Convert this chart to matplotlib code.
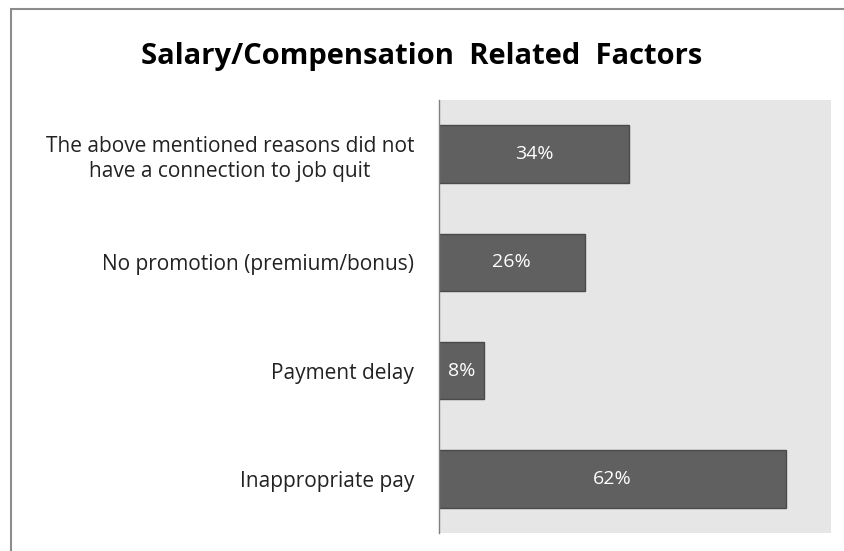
import matplotlib.pyplot as plt
import numpy as np
from matplotlib.patches import Rectangle

plt.rcParams['font.family'] = ['Open Sans', 'DejaVu Sans']

categories = ['The above mentioned reasons did not\nhave a connection to job quit',
              'No promotion (premium/bonus)',
              'Payment delay',
              'Inappropriate pay']
values = [34, 26, 8, 62]
value_labels = ['34%', '26%', '8%', '62%']

fig = plt.figure(figsize=(8.44, 5.51), dpi=100)
# light gray frame around the chart area
fig.patches.append(Rectangle((11 / 844, -0.1), 1.2, 1 - 9 / 551 + 0.1, transform=fig.transFigure,
                             fill=False, edgecolor='#8c8c8c', linewidth=1.5))

ax = fig.add_axes([439 / 844, 1 - 533 / 551, (831 - 439) / 844, (533 - 100) / 551])
ax.set_facecolor('#e6e6e6')

y = np.arange(len(categories))
bars = ax.barh(y, values, height=0.53, color='#606060', edgecolor='#4a4a4a', linewidth=1)
for b, lab in zip(bars, value_labels):
    ax.text(b.get_width() / 2, b.get_y() + b.get_height() / 2, lab,
            ha='center', va='center', color='white', fontsize=14)

ax.set_xlim(0, 70)
ax.set_ylim(len(categories) - 0.5, -0.5)
ax.set_yticks(y)
ax.set_yticklabels(categories, fontsize=15, color='#222222', linespacing=1.3)
ax.tick_params(axis='y', length=0, pad=18)
ax.set_xticks([])
for s in ['top', 'right', 'bottom']:
    ax.spines[s].set_visible(False)
ax.spines['left'].set_color('#808080')
ax.spines['left'].set_linewidth(1)

for t in ax.get_yticklabels():
    t.set_multialignment('center')

fig.text(422 / 844, 1 - 64 / 551, 'Salary/Compensation  Related  Factors',
         ha='center', va='baseline', fontsize=21, fontweight='bold', color='black')

fig.savefig('out.png', dpi=100)
